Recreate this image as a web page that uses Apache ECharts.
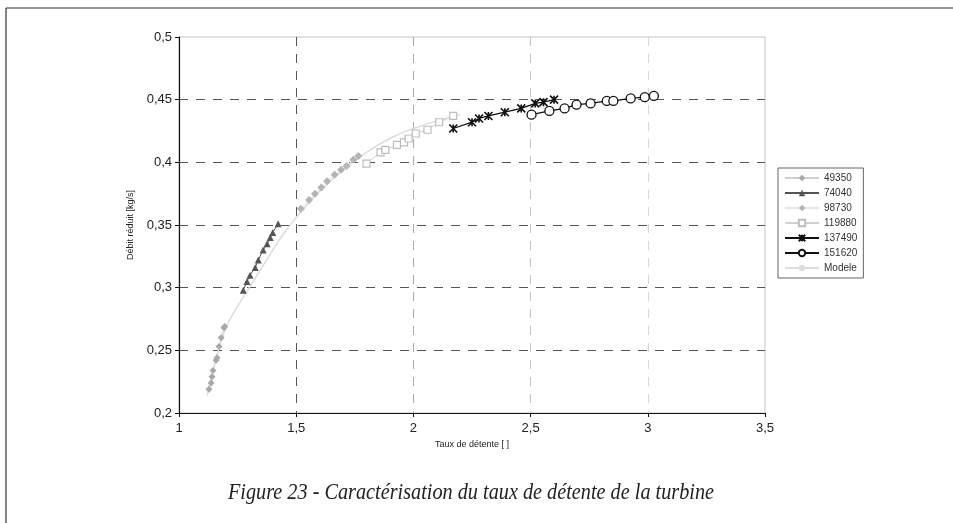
<!DOCTYPE html>
<html>
<head>
<meta charset="utf-8">
<script src="https://cdn.jsdelivr.net/npm/echarts@6/dist/echarts.min.js"></script>
<style>
  html, body { margin: 0; padding: 0; background: #fff; }
  #chart { width: 953px; height: 523px; }
</style>
</head>
<body>
<div id="chart"></div>
<script>
const s49350x = [1.128, 1.137, 1.141, 1.145, 1.158, 1.162, 1.171, 1.180, 1.192, 1.195];
const s49350y = [0.219, 0.224, 0.229, 0.234, 0.242, 0.244, 0.253, 0.260, 0.268, 0.269];

const s74040x = [1.274, 1.290, 1.303, 1.325, 1.338, 1.359, 1.376, 1.389, 1.400, 1.423];
const s74040y = [0.298, 0.305, 0.310, 0.316, 0.322, 0.330, 0.335, 0.340, 0.344, 0.351];

const s98730x = [1.520, 1.555, 1.580, 1.607, 1.632, 1.664, 1.692, 1.715, 1.744, 1.765];
const s98730y = [0.363, 0.370, 0.375, 0.380, 0.385, 0.390, 0.394, 0.397, 0.402, 0.405];

const s119880x = [1.80, 1.86, 1.88, 1.93, 1.96, 1.98, 2.01, 2.06, 2.11, 2.17];
const s119880y = [0.399, 0.408, 0.410, 0.414, 0.416, 0.419, 0.423, 0.426, 0.432, 0.437];

const s137490x = [2.17, 2.25, 2.28, 2.32, 2.39, 2.46, 2.52, 2.555, 2.60];
const s137490y = [0.427, 0.432, 0.435, 0.437, 0.440, 0.443, 0.447, 0.448, 0.450];

const s151620x = [2.504, 2.58, 2.645, 2.696, 2.756, 2.825, 2.853, 2.927, 2.987, 3.026];
const s151620y = [0.438, 0.441, 0.443, 0.446, 0.447, 0.449, 0.449, 0.451, 0.452, 0.453];

const modeleX = [1.12, 1.15, 1.2, 1.25, 1.3, 1.35, 1.4, 1.45, 1.5, 1.55, 1.6, 1.7, 1.8, 1.9, 2.0, 2.1, 2.2];
const modeleY = [0.214, 0.238, 0.268, 0.285, 0.300, 0.315, 0.330, 0.344, 0.356, 0.367, 0.377, 0.394, 0.408, 0.419, 0.427, 0.433, 0.438];

const seriesNames = ['49350', '74040', '98730', '119880', '137490', '151620', 'Modele'];

const chart = echarts.init(document.getElementById('chart'));

function pairs(xs, ys) {
  var out = [];
  for (var i = 0; i < xs.length; i++) {
    out.push([xs[i], ys[i]]);
  }
  return out;
}

function fmt(v) {
  return String(+v.toFixed(2)).replace('.', ',');
}

const starPath = 'path://M0,0L10,10M10,0L0,10M5,0L5,10';

var option = {
  backgroundColor: '#fff',
  animation: false,
  grid: { left: 179, top: 37, right: 188, bottom: 110, show: true, borderColor: '#c4c4c4', borderWidth: 1 },
  xAxis: {
    type: 'value',
    min: 1,
    max: 3.5,
    interval: 0.5,
    name: 'Taux de détente [ ]',
    nameLocation: 'middle',
    nameGap: 23,
    nameTextStyle: { fontSize: 9, color: '#222', fontFamily: 'Liberation Sans' },
    axisLine: { onZero: false, lineStyle: { color: '#111', width: 1.2 } },
    axisTick: { length: 4, lineStyle: { color: '#111' } },
    axisLabel: { formatter: fmt, fontSize: 13, color: '#222', margin: 9, fontFamily: 'Liberation Sans' },
    splitLine: {
      show: true,
      lineStyle: {
        type: [9, 8],
        color: ['rgba(0,0,0,0)', '#555', '#aaa', '#c4c4c4', '#d8d8d8', 'rgba(0,0,0,0)']
      }
    }
  },
  yAxis: {
    type: 'value',
    min: 0.2,
    max: 0.5,
    interval: 0.05,
    name: 'Débit réduit [kg/s]',
    nameLocation: 'middle',
    nameRotate: 90,
    nameGap: 44,
    nameTextStyle: { fontSize: 9, color: '#222', fontFamily: 'Liberation Sans' },
    axisLine: { onZero: false, lineStyle: { color: '#111', width: 1.2 } },
    axisTick: { length: 4, lineStyle: { color: '#111' } },
    axisLabel: { formatter: fmt, fontSize: 13, color: '#222', margin: 7, fontFamily: 'Liberation Sans' },
    splitLine: {
      show: true,
      lineStyle: { type: [9, 8], color: ['rgba(0,0,0,0)', '#555', '#555', '#555', '#555', '#555', 'rgba(0,0,0,0)'] }
    }
  },
  legend: {
    orient: 'vertical',
    left: 778,
    top: 168,
    data: seriesNames,
    itemWidth: 34,
    itemHeight: 8,
    itemGap: 5,
    padding: [5, 6, 5, 6],
    borderColor: '#666',
    borderWidth: 1,
    backgroundColor: '#fff',
    textStyle: { fontSize: 10, color: '#333', fontFamily: 'Liberation Sans' }
  },
  series: [
    {
      name: '49350', type: 'line', data: pairs(s49350x, s49350y),
      symbol: 'diamond', symbolSize: 7,
      itemStyle: { color: '#a8a8a8' },
      lineStyle: { color: '#cfcfcf', width: 1 }
    },
    {
      name: '74040', type: 'line', data: pairs(s74040x, s74040y),
      symbol: 'triangle', symbolSize: 7,
      itemStyle: { color: '#555' },
      lineStyle: { color: '#555', width: 1 }
    },
    {
      name: '98730', type: 'line', data: pairs(s98730x, s98730y),
      symbol: 'diamond', symbolSize: 8,
      itemStyle: { color: '#b4b4b4' },
      lineStyle: { color: '#e6e6e6', width: 1 }
    },
    {
      name: '119880', type: 'line', data: pairs(s119880x, s119880y),
      symbol: 'rect', symbolSize: 7,
      itemStyle: { color: '#fff', borderColor: '#bdbdbd', borderWidth: 1.2 },
      lineStyle: { color: '#d0d0d0', width: 1 }
    },
    {
      name: '137490', type: 'line', data: pairs(s137490x, s137490y),
      symbol: starPath, symbolSize: 8,
      itemStyle: { color: '#111', borderColor: '#111', borderWidth: 1.6 },
      lineStyle: { color: '#111', width: 1.3 }
    },
    {
      name: '151620', type: 'line', data: pairs(s151620x, s151620y),
      symbol: 'circle', symbolSize: 9,
      itemStyle: { color: '#fff', borderColor: '#111', borderWidth: 1.3 },
      lineStyle: { color: '#111', width: 1.3 }
    },
    {
      name: 'Modele', type: 'line', data: pairs(modeleX, modeleY),
      smooth: true, symbol: 'none',
      itemStyle: { color: '#ddd' },
      lineStyle: { color: '#dcdcdc', width: 1.5 }
    }
  ],
  graphic: [
    { type: 'line', shape: { x1: 6, y1: 8, x2: 953, y2: 8 }, style: { stroke: '#333', lineWidth: 1.2 } },
    { type: 'line', shape: { x1: 6, y1: 8, x2: 6, y2: 523 }, style: { stroke: '#333', lineWidth: 1.2 } },
    {
      type: 'text', x: 471, y: 481, scaleX: 0.88,
      style: {
        text: 'Figure 23 - Caractérisation du taux de détente de la turbine',
        textAlign: 'center',
        font: 'italic 23px "Liberation Serif", "DejaVu Serif", serif',
        fill: '#222'
      }
    }
  ]
};

chart.setOption(option);
</script>
</body>
</html>
